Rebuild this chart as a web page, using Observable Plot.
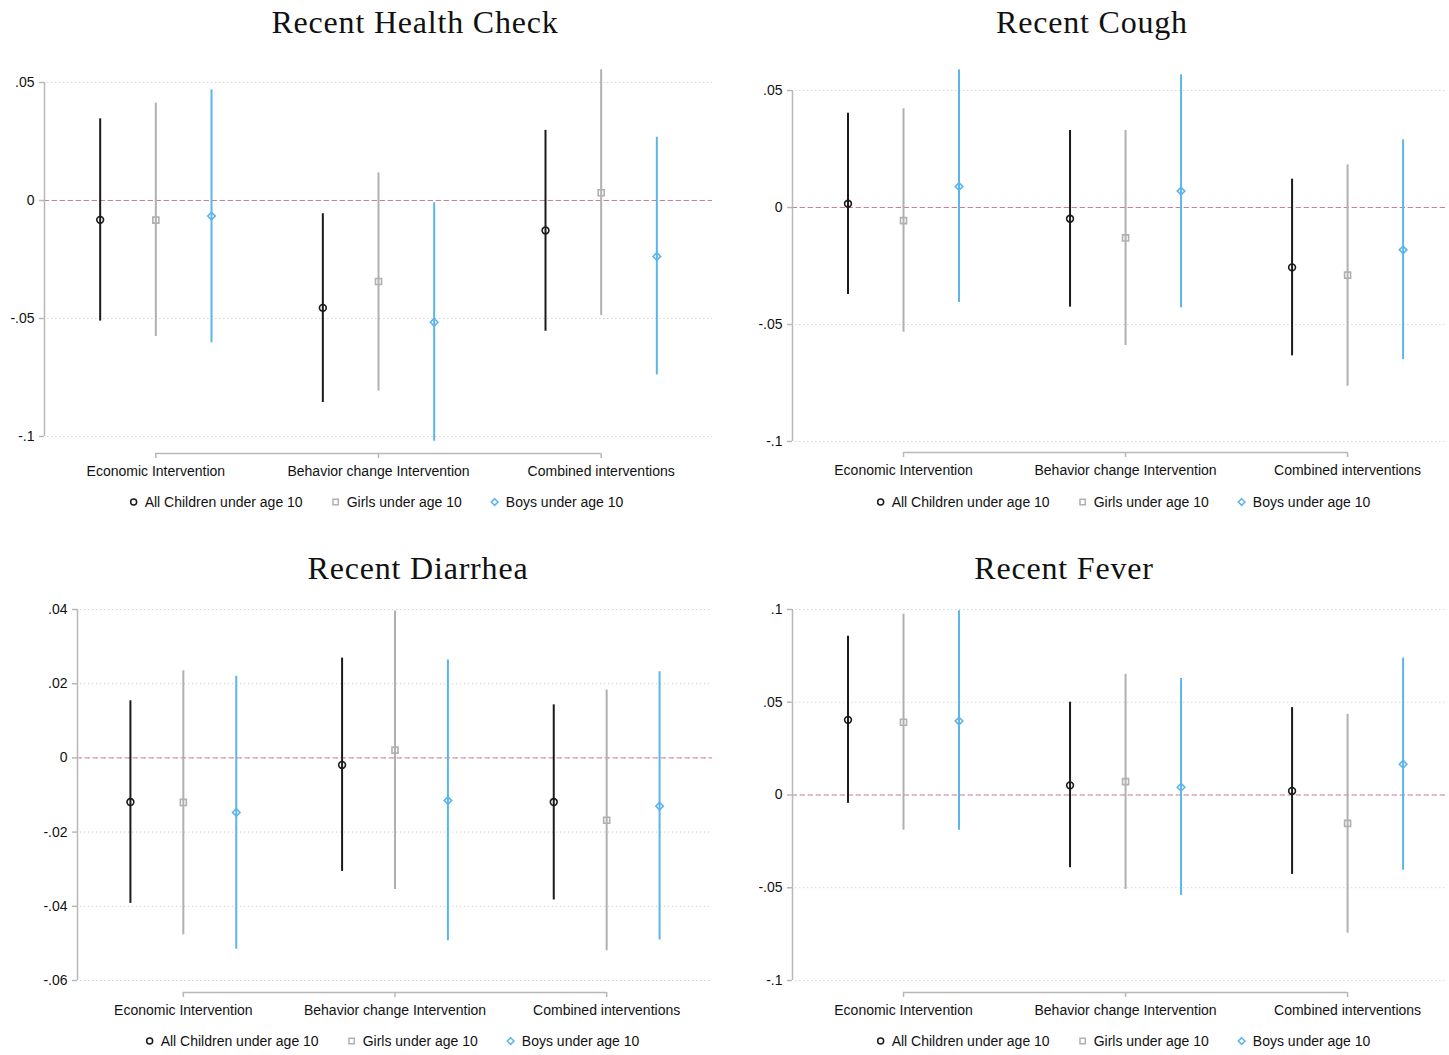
<!DOCTYPE html>
<html><head><meta charset="utf-8">
<script src="https://cdn.jsdelivr.net/npm/d3@7"></script>
<script src="https://cdn.jsdelivr.net/npm/@observablehq/plot@0.6"></script>
<style>
html,body{margin:0;padding:0;background:#fff;}
body{width:1449px;height:1055px;position:relative;overflow:hidden;font-family:"Liberation Sans",Arial,sans-serif;color:#111;}
.title{position:absolute;font-family:"Liberation Serif","Times New Roman",serif;font-size:32px;letter-spacing:0.8px;line-height:32px;color:#111;transform:translateX(-50%);white-space:nowrap;}
.panel{position:absolute;}
.legend{position:absolute;display:flex;align-items:center;transform:translate(-50%,-50%);font-size:14px;color:#111;white-space:nowrap;}
.legend .item{display:flex;align-items:center;margin:0 14px;}
.legend svg{margin-right:6px;overflow:visible;}
</style>
</head><body>
<script>
// ---------- data ----------
const categories = ["Economic Intervention", "Behavior change Intervention", "Combined interventions"];
const series = ["All Children under age 10", "Girls under age 10", "Boys under age 10"];
const titles = ["Recent Health Check", "Recent Cough", "Recent Diarrhea", "Recent Fever"];

// values ordered: for each category -> All, Girls, Boys
const healthEst = [-0.0082, -0.0083, -0.0066, -0.0455, -0.0343, -0.0516, -0.0127, 0.0033, -0.0237];
const healthLo  = [-0.0511, -0.0576, -0.0603, -0.0856, -0.0808, -0.1020, -0.0554, -0.0487, -0.0739];
const healthHi  = [ 0.0346,  0.0412,  0.0469, -0.0056,  0.0117, -0.0010,  0.0297,  0.0554,  0.0268];

const coughEst = [ 0.0016, -0.0056,  0.0090, -0.0048, -0.0130,  0.0070, -0.0256, -0.0289, -0.0181];
const coughLo  = [-0.0372, -0.0533, -0.0406, -0.0426, -0.0590, -0.0429, -0.0634, -0.0764, -0.0650];
const coughHi  = [ 0.0403,  0.0422,  0.0588,  0.0329,  0.0329,  0.0567,  0.0121,  0.0182,  0.0289];

const diarrheaEst = [-0.0119, -0.0120, -0.0147, -0.0019,  0.0021, -0.0115, -0.0119, -0.0168, -0.0130];
const diarrheaLo  = [-0.0392, -0.0477, -0.0516, -0.0306, -0.0355, -0.0493, -0.0383, -0.0520, -0.0491];
const diarrheaHi  = [ 0.0154,  0.0235,  0.0220,  0.0269,  0.0396,  0.0264,  0.0143,  0.0183,  0.0232];

const feverEst = [ 0.0405,  0.0392,  0.0399,  0.0052,  0.0072,  0.0042,  0.0022, -0.0153,  0.0166];
const feverLo  = [-0.0045, -0.0190, -0.0190, -0.0392, -0.0509, -0.0541, -0.0428, -0.0745, -0.0406];
const feverHi  = [ 0.0856,  0.0975,  0.0993,  0.0500,  0.0651,  0.0628,  0.0471,  0.0435,  0.0738];

const ticksA = [-0.1, -0.05, 0, 0.05];
const tickLabelsA = ["-.1", "-.05", "0", ".05"];
const ticksDiarrhea = [-0.06, -0.04, -0.02, 0, 0.02, 0.04];
const tickLabelsDiarrhea = ["-.06", "-.04", "-.02", "0", ".02", ".04"];
const ticksFever = [-0.1, -0.05, 0, 0.05, 0.1];
const tickLabelsFever = ["-.1", "-.05", "0", ".05", ".1"];

// ---------- styles ----------
const colors = ["#1a1a1a", "#b0b0b0", "#5bb5ea"];
const symbols = ["circle", "square", "diamond2"];
const axisGray = "#b8b8b8";
const fontFamily = '"Liberation Sans", Arial, sans-serif';

function buildPanel(cfg) {
  const rows = [];
  categories.forEach((c, ci) => series.forEach((s, si) => {
    const i = ci * 3 + si;
    rows.push({cat: c, series: s, pos: ci * 4 + si + 1, est: cfg.est[i], lo: cfg.lo[i], hi: cfg.hi[i]});
  }));
  const yMin = d3.min(cfg.ticks), yMax = d3.max(cfg.ticks);
  const catPos = categories.map((c, i) => i * 4 + 2);
  return Plot.plot({
    width: cfg.w, height: cfg.h,
    marginLeft: cfg.ml, marginRight: cfg.mr, marginTop: cfg.mt, marginBottom: cfg.mb,
    x: {domain: [0, cfg.xMax], axis: null, label: null},
    y: {domain: [yMin, yMax], axis: null, label: null},
    color: {domain: series, range: colors},
    symbol: {domain: series, range: symbols},
    style: {fontFamily, fontSize: "14px", color: "#111", background: "white", overflow: "visible"},
    marks: [
      Plot.ruleY(cfg.ticks, {x1: 0.06, x2: cfg.xMax, stroke: "#c4c4c4", strokeDasharray: "1,3"}),
      Plot.ruleY([0], {x1: 0, x2: cfg.xMax, stroke: "#cc7c9c", strokeDasharray: "5,3"}),
      Plot.ruleX([0], {y1: yMin, y2: yMax, stroke: axisGray, strokeWidth: 1.5}),
      Plot.axisY({ticks: cfg.ticks, tickFormat: d => cfg.labels[cfg.ticks.indexOf(d)], tickSize: 5, tickPadding: 5,
                  stroke: axisGray, fill: "#111", strokeWidth: 1.5, label: null}),
      Plot.ruleY([yMin], {x1: catPos[0], x2: catPos[catPos.length - 1], dy: cfg.bdy, stroke: axisGray, strokeWidth: 1.5}),
      Plot.axisX({ticks: catPos, tickFormat: d => categories[catPos.indexOf(d)], tickSize: 5, tickPadding: 8,
                  dy: cfg.bdy, stroke: axisGray, fill: "#111", strokeWidth: 1.5, label: null}),
      Plot.ruleX(rows, {x: "pos", y1: "lo", y2: "hi", stroke: "series", strokeWidth: 2}),
      Plot.dot(rows, {x: "pos", y: "est", symbol: "series", stroke: "series", fill: "none", r: 3.4, strokeWidth: 1.6})
    ]
  });
}

function addTitle(text, cx, top) {
  const d = document.createElement("div");
  d.className = "title"; d.textContent = text;
  d.style.left = cx + "px"; d.style.top = top + "px";
  document.body.appendChild(d);
}

function addLegend(cx, cy) {
  const d = document.createElement("div");
  d.className = "legend"; d.style.left = cx + "px"; d.style.top = cy + "px";
  const symMap = {circle: d3.symbolCircle, square: d3.symbolSquare, diamond2: d3.symbolDiamond2};
  series.forEach((s, i) => {
    const it = document.createElement("div"); it.className = "item";
    const path = d3.symbol(symMap[symbols[i]], 9 * Math.PI)();
    it.innerHTML = `<svg width="10" height="10" viewBox="-5 -5 10 10"><path d="${path}" fill="none" stroke="${colors[i]}" stroke-width="1.5"/></svg><span>${s}</span>`;
    d.appendChild(it);
  });
  document.body.appendChild(d);
}

const panels = [
  {title: titles[0], tx: 415, ty: 6, left: 0, top: 50, w: 724, h: 430, ml: 44, mr: 12, mt: 32, mb: 44, xMax: 12, bdy: 17,
   est: healthEst, lo: healthLo, hi: healthHi, ticks: ticksA, labels: tickLabelsA, lx: 376, ly: 502},
  {title: titles[1], tx: 1092, ty: 6, left: 724, top: 50, w: 725, h: 430, ml: 68, mr: 2, mt: 40, mb: 39, xMax: 11.8, bdy: 11,
   est: coughEst, lo: coughLo, hi: coughHi, ticks: ticksA, labels: tickLabelsA, lx: 1123, ly: 502},
  {title: titles[2], tx: 418, ty: 552, left: 0, top: 595, w: 724, h: 430, ml: 77, mr: 12, mt: 14, mb: 45, xMax: 12, bdy: 12,
   est: diarrheaEst, lo: diarrheaLo, hi: diarrheaHi, ticks: ticksDiarrhea, labels: tickLabelsDiarrhea, lx: 392, ly: 1041},
  {title: titles[3], tx: 1064, ty: 552, left: 724, top: 595, w: 725, h: 430, ml: 68, mr: 2, mt: 14, mb: 45, xMax: 11.8, bdy: 12,
   est: feverEst, lo: feverLo, hi: feverHi, ticks: ticksFever, labels: tickLabelsFever, lx: 1123, ly: 1041}
];

panels.forEach(p => {
  const div = document.createElement("div");
  div.className = "panel";
  div.style.left = p.left + "px"; div.style.top = p.top + "px"; div.style.width = p.w + "px";
  div.appendChild(buildPanel(p));
  document.body.appendChild(div);
  addTitle(p.title, p.tx, p.ty);
  addLegend(p.lx, p.ly);
});
</script>
</body></html>
